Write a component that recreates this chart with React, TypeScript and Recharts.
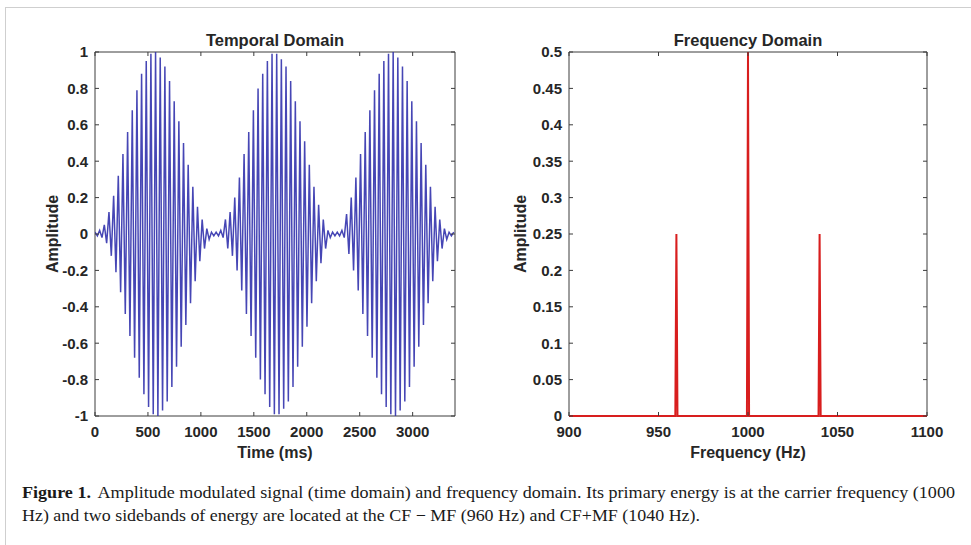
import React from 'react';
import { LineChart, Line, XAxis, YAxis, ReferenceArea } from 'recharts';

// Peak amplitude of each carrier cycle of the AM signal (positive and negative swings are equal)
const carrierPeaks = [
  0.01, 0.02, 0.05, 0.12, 0.21, 0.32, 0.44, 0.56, 0.68, 0.79, 0.88, 0.95, 0.99, 1.0,
  0.97, 0.92, 0.84, 0.73, 0.62, 0.5, 0.38, 0.26, 0.15, 0.08, 0.03, 0.01,
  0.01, 0.02, 0.08, 0.12, 0.2, 0.31, 0.44, 0.56, 0.68, 0.8, 0.88, 0.95, 0.99, 0.99,
  0.96, 0.92, 0.84, 0.73, 0.62, 0.51, 0.38, 0.26, 0.16, 0.08, 0.02, 0.01,
  0.01, 0.02, 0.11, 0.2, 0.31, 0.44, 0.56, 0.68, 0.79, 0.88, 0.95, 0.99, 1.0,
  0.97, 0.92, 0.84, 0.73, 0.62, 0.5, 0.38, 0.26, 0.15, 0.08, 0.03, 0.01, 0.01,
];
const carrierPeriodMs = 44;
const timeRange = [0, 3400];
const timeTicks = [0, 500, 1000, 1500, 2000, 2500, 3000];
const amplitudeTicks = [-1, -0.8, -0.6, -0.4, -0.2, 0, 0.2, 0.4, 0.6, 0.8, 1];

// Magnitude spectrum: carrier at 1000 Hz, sidebands at 960 and 1040 Hz
const spectrumHz = [900, 959.4, 960, 960.6, 999.4, 1000, 1000.6, 1039.4, 1040, 1040.6, 1100];
const spectrumAmp = [0, 0, 0.25, 0, 0, 0.5, 0, 0, 0.25, 0, 0];
const freqTicks = [900, 950, 1000, 1050, 1100];
const spectrumTicks = [0, 0.05, 0.1, 0.15, 0.2, 0.25, 0.3, 0.35, 0.4, 0.45, 0.5];

const temporalData = carrierPeaks
  .flatMap((a, i) => [
    { t: i * carrierPeriodMs, v: a },
    { t: i * carrierPeriodMs + carrierPeriodMs / 2, v: -a },
  ])
  .filter((d) => d.t <= timeRange[1]);

const spectrumData = spectrumHz.map((f, i) => ({ f, a: spectrumAmp[i] }));

const FONT = '"Liberation Sans", Arial, Helvetica, sans-serif';
const TEXT = '#262626';
const AXIS = '#3c3c3c';
const PLOT_TOP = 52;
const PLOT_BOTTOM = 416;
const PLOT_H = PLOT_BOTTOM - PLOT_TOP;
const CHART_H = 545;
const X_AXIS_H = 30;
const Y_AXIS_W = 60;

const makeXTick = (span: number) => (props: any) => {
  const { x, y, payload } = props;
  return (
    <g>
      <line x1={x} x2={x} y1={y} y2={y - 4} stroke={AXIS} strokeWidth={1} />
      <line x1={x} x2={x} y1={y - span} y2={y - span + 4} stroke={AXIS} strokeWidth={1} />
      <text x={x} y={y + 21} textAnchor="middle" fontFamily={FONT} fontWeight="bold" fontSize={15} fill={TEXT}>
        {String(payload.value)}
      </text>
    </g>
  );
};

const makeYTick = (span: number) => (props: any) => {
  const { x, y, payload } = props;
  return (
    <g>
      <line x1={x} x2={x + 4} y1={y} y2={y} stroke={AXIS} strokeWidth={1} />
      <line x1={x + span} x2={x + span - 4} y1={y} y2={y} stroke={AXIS} strokeWidth={1} />
      <text x={x - 7} y={y} dy="0.36em" textAnchor="end" fontFamily={FONT} fontWeight="bold" fontSize={15} fill={TEXT}>
        {String(payload.value)}
      </text>
    </g>
  );
};

// Left panel: plot box spans x 95..455
const LEFT_W = 480;
const LEFT_PLOT_L = 95;
const LEFT_PLOT_R = 455;
// Right panel: plot box spans x 569..927
const RIGHT_X = 480;
const RIGHT_W = 491;
const RIGHT_PLOT_L = 569;
const RIGHT_PLOT_R = 927;

export default function App() {
  const bottomMargin = CHART_H - PLOT_BOTTOM - X_AXIS_H;
  return (
    <div style={{ position: 'fixed', left: 0, top: 0, width: 971, height: 545, background: '#fff', overflow: 'hidden' }}>
      <svg width={971} height={545} style={{ position: 'absolute', left: 0, top: 0 }}>
        <line x1={5} x2={971} y1={7.5} y2={7.5} stroke="#cfcfcf" strokeWidth={1} />
        <line x1={5.5} x2={5.5} y1={7} y2={545} stroke="#cfcfcf" strokeWidth={1} />
        <g fontFamily={FONT} fontWeight="bold" fill={TEXT}>
          <text x={275} y={46} textAnchor="middle" fontSize={16.5}>Temporal Domain</text>
          <text x={748} y={46} textAnchor="middle" fontSize={16.5}>Frequency Domain</text>
          <text x={275} y={458} textAnchor="middle" fontSize={16}>Time (ms)</text>
          <text x={748} y={458} textAnchor="middle" fontSize={16}>Frequency (Hz)</text>
          <text x={0} y={0} textAnchor="middle" fontSize={16} transform="translate(58,234) rotate(-90)">Amplitude</text>
          <text x={0} y={0} textAnchor="middle" fontSize={16} transform="translate(526,234) rotate(-90)">Amplitude</text>
        </g>
        <g fontFamily='"Liberation Serif", "Times New Roman", serif' fontSize={16.5} fill="#1a1a1a">
          <text x={22} y={498} textLength={933} lengthAdjust="spacingAndGlyphs">
            <tspan fontWeight="bold">Figure 1.</tspan>
            <tspan dx={6}>Amplitude modulated signal (time domain) and frequency domain. Its primary energy is at the carrier frequency (1000</tspan>
          </text>
          <text x={22} y={521} textLength={678} lengthAdjust="spacingAndGlyphs">
            Hz) and two sidebands of energy are located at the CF − MF (960 Hz) and CF+MF (1040 Hz).
          </text>
        </g>
      </svg>

      <div style={{ position: 'absolute', left: 0, top: 0 }}>
        <LineChart
          width={LEFT_W}
          height={CHART_H}
          data={temporalData}
          margin={{ top: PLOT_TOP, right: LEFT_W - LEFT_PLOT_R, bottom: bottomMargin, left: LEFT_PLOT_L - Y_AXIS_W }}
        >
          <XAxis
            dataKey="t"
            type="number"
            domain={timeRange}
            ticks={timeTicks}
            interval={0}
            allowDataOverflow
            height={X_AXIS_H}
            tickSize={0}
            tickMargin={0}
            tickLine={false}
            axisLine={false}
            tick={makeXTick(PLOT_H)}
          />
          <YAxis
            type="number"
            domain={[-1, 1]}
            ticks={amplitudeTicks}
            interval={0}
            width={Y_AXIS_W}
            tickSize={0}
            tickMargin={0}
            tickLine={false}
            axisLine={false}
            tick={makeYTick(LEFT_PLOT_R - LEFT_PLOT_L)}
          />
          <ReferenceArea x1={timeRange[0]} x2={timeRange[1]} y1={-1} y2={1} fill="none" stroke={AXIS} strokeWidth={1} fillOpacity={0} />
          <Line
            type="linear"
            dataKey="v"
            stroke="#3232ad"
            strokeWidth={1.5}
            strokeOpacity={0.9}
            dot={false}
            activeDot={false}
            isAnimationActive={false}
          />
        </LineChart>
      </div>

      <div style={{ position: 'absolute', left: RIGHT_X, top: 0 }}>
        <LineChart
          width={RIGHT_W}
          height={CHART_H}
          data={spectrumData}
          margin={{ top: PLOT_TOP, right: RIGHT_X + RIGHT_W - RIGHT_PLOT_R, bottom: bottomMargin, left: RIGHT_PLOT_L - RIGHT_X - Y_AXIS_W }}
        >
          <XAxis
            dataKey="f"
            type="number"
            domain={[900, 1100]}
            ticks={freqTicks}
            interval={0}
            height={X_AXIS_H}
            tickSize={0}
            tickMargin={0}
            tickLine={false}
            axisLine={false}
            tick={makeXTick(PLOT_H)}
          />
          <YAxis
            type="number"
            domain={[0, 0.5]}
            ticks={spectrumTicks}
            interval={0}
            width={Y_AXIS_W}
            tickSize={0}
            tickMargin={0}
            tickLine={false}
            axisLine={false}
            tick={makeYTick(RIGHT_PLOT_R - RIGHT_PLOT_L)}
          />
          <ReferenceArea x1={900} x2={1100} y1={0} y2={0.5} fill="none" stroke={AXIS} strokeWidth={1} fillOpacity={0} />
          <Line
            type="linear"
            dataKey="a"
            stroke="#d81e1e"
            strokeWidth={2}
            dot={false}
            activeDot={false}
            isAnimationActive={false}
          />
        </LineChart>
      </div>
    </div>
  );
}
